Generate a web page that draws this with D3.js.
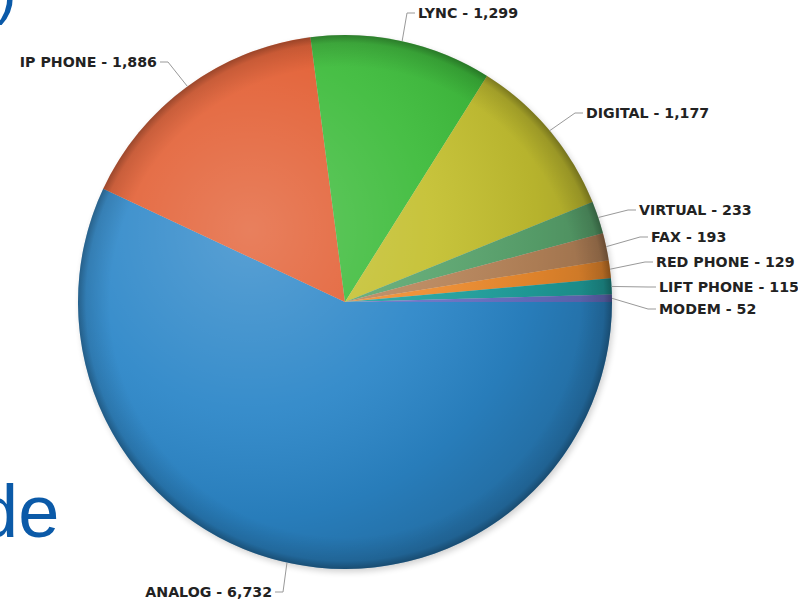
<!DOCTYPE html>
<html><head><meta charset="utf-8">
<script src="https://cdn.jsdelivr.net/npm/d3@7"></script>
<style>body{margin:0;background:#fff;}svg{display:block;}</style>
</head><body>
<svg id="chart" width="798" height="605"></svg>
<script>
const categories = ["ANALOG","IP PHONE","LYNC","DIGITAL","VIRTUAL","FAX","RED PHONE","LIFT PHONE","MODEM"];
const values = [6732,1886,1299,1177,233,193,129,115,52];
const colors = ["#2b86c8","#e25c30","#3cbb3a","#c4c030","#5aa56e","#b8855a","#ee8c2e","#20a19e","#6870c4"];
// label layout (elbow positions)
const labelY = [592,62,13,113,210,237,262,287,309];
const labelX = [283,168,407,575,628,640,645,648,648];

const svg = d3.select("#chart");
const cx = 345, cy = 302, R = 267;
const defs = svg.append("defs");

svg.append("text").attr("x",-4).attr("y",12).attr("font-family","Liberation Sans, Arial").attr("font-size",62)
  .attr("fill","#0b5aa8").text(")");
svg.append("text").attr("x",-23).attr("y",537).attr("font-family","Liberation Sans, Arial").attr("font-size",74)
  .attr("fill","#0b5aa8").text("de");

const data = categories.map((c,i)=>({name:c,value:values[i],color:colors[i]}));
const pie = d3.pie().value(d=>d.value).sort(null).startAngle(Math.PI/2).endAngle(Math.PI/2+2*Math.PI);
const arcs = pie(data);
const arc = d3.arc().innerRadius(0).outerRadius(R);

const hl = defs.append("radialGradient").attr("id","hl").attr("gradientUnits","userSpaceOnUse")
  .attr("cx",250).attr("cy",230).attr("r",360);
hl.append("stop").attr("offset","0").attr("stop-color","#fff").attr("stop-opacity",0.22);
hl.append("stop").attr("offset","0.5").attr("stop-color","#fff").attr("stop-opacity",0.06);
hl.append("stop").attr("offset","0.8").attr("stop-color","#000").attr("stop-opacity",0.07);
hl.append("stop").attr("offset","1").attr("stop-color","#000").attr("stop-opacity",0.17);
const rim = defs.append("radialGradient").attr("id","rim").attr("gradientUnits","userSpaceOnUse")
  .attr("cx",cx).attr("cy",cy).attr("r",R);
rim.append("stop").attr("offset","0.88").attr("stop-color","#000").attr("stop-opacity",0);
rim.append("stop").attr("offset","0.97").attr("stop-color","#000").attr("stop-opacity",0.12);
rim.append("stop").attr("offset","1").attr("stop-color","#000").attr("stop-opacity",0.32);
const blur = defs.append("filter").attr("id","sh").attr("x","-10%").attr("y","-10%").attr("width","120%").attr("height","120%");
blur.append("feGaussianBlur").attr("stdDeviation",3);

svg.append("circle").attr("cx",cx+2).attr("cy",cy+3).attr("r",R).attr("fill","#000").attr("opacity",0.18).attr("filter","url(#sh)");

const pg = svg.append("g").attr("transform",`translate(${cx},${cy})`);
pg.selectAll("path.slice").data(arcs).join("path").attr("class","slice")
  .attr("d",arc).attr("fill",d=>d.data.color);
svg.append("circle").attr("cx",cx).attr("cy",cy).attr("r",R).attr("fill","url(#hl)");
svg.append("circle").attr("cx",cx).attr("cy",cy).attr("r",R).attr("fill","url(#rim)");

const fmt = d3.format(",");
arcs.forEach((a,i)=>{
  const m = (a.startAngle+a.endAngle)/2;
  const x0 = cx + R*Math.sin(m), y0 = cy - R*Math.cos(m);
  const ex = labelX[i], ey = labelY[i];
  const dir = (i===0||i===1) ? -1 : 1;
  const x2 = ex + dir*8;
  svg.append("path").attr("d",`M${x0},${y0}L${ex},${ey}L${x2},${ey}`)
    .attr("fill","none").attr("stroke","#999").attr("stroke-width",1);
  svg.append("text").attr("x",x2+dir*3).attr("y",ey).attr("dy","0.36em")
    .attr("text-anchor",dir<0?"end":"start")
    .attr("font-family","DejaVu Sans, Verdana").attr("font-weight","bold").attr("font-size",14.2)
    .attr("fill","#222").text(`${categories[i]} - ${fmt(values[i])}`);
});
</script>
</body></html>
